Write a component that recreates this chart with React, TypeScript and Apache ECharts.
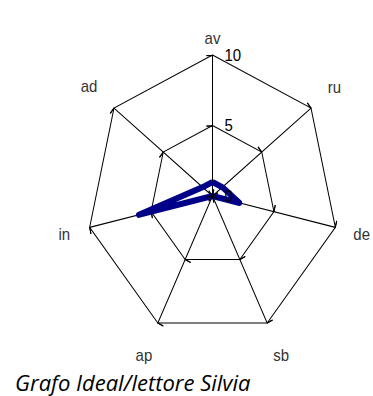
import React, { useEffect, useRef } from "react";
import * as echarts from "echarts";

// categories in clockwise order, starting at the top
const categories = ["av", "ru", "de", "sb", "ap", "in", "ad"];
const values = [1, 1, 2.2, 0, 0, 6, 1];
const nameGaps = [15, 30, 27, 32, 32, 26, 32];
const axisMax = 10;
const tickStep = 5;
const caption = "Grafo Ideal/lettore Silvia";

// the reference image is vertically stretched
const SY = 1.119;
const CX = 212.5;
const CY = 196;
const R = 126;

// ECharts draws indicators counter-clockwise: keep the first, reverse the rest
const cw = <T,>(arr: T[]): T[] => [arr[0], ...arr.slice(1).reverse()];

export default function App() {
  const ref = useRef<HTMLDivElement>(null);
  const capRef = useRef<HTMLDivElement>(null);
  useEffect(() => {
    const chart = echarts.init(ref.current!, null, { renderer: "svg" });
    const capChart = echarts.init(capRef.current!, null, { renderer: "svg" });
    const font = "Liberation Sans, Arial, sans-serif";
    const common = {
      center: [CX, CY],
      radius: R,
      shape: "polygon",
      splitNumber: axisMax / tickStep,
      startAngle: 90,
    };
    const names = cw(categories);
    const gaps = cw(nameGaps);
    chart.setOption({
      animation: false,
      radar: [
        {
          ...common,
          indicator: names.map((n, i) => ({
            name: n,
            min: 0,
            max: axisMax,
            nameGap: gaps[i],
          })),
          axisName: {
            color: "#333",
            fontSize: 15,
            fontFamily: font,
            align: "center",
            verticalAlign: "middle",
          },
          axisLine: { lineStyle: { color: "#000", width: 1 } },
          splitLine: { lineStyle: { color: "#000", width: 1 } },
          splitArea: { show: false },
          axisTick: { show: true, length: 6, lineStyle: { color: "#000", width: 1 } },
          axisLabel: { show: false },
        },
        {
          ...common,
          z: 3,
          indicator: names.map((n, i) => ({
            name: n,
            min: 0,
            max: axisMax,
            ...(i === 0
              ? {
                  axisLabel: {
                    show: true,
                    align: "left",
                    margin: -12,
                    showMinLabel: true,
                    showMaxLabel: true,
                  },
                }
              : {}),
          })),
          axisName: { show: false },
          axisLine: { show: false },
          splitLine: { show: false },
          splitArea: { show: false },
          axisTick: { show: true, inside: true, length: 6, lineStyle: { color: "#000", width: 1 } },
          axisLabel: { show: false, color: "#000", fontSize: 15, fontFamily: font },
        },
      ],
      series: [
        {
          type: "radar",
          radarIndex: 0,
          symbol: "none",
          lineStyle: { color: "#000088", width: 5.5 },
          data: [{ value: cw(values), name: "Ideal/lettore" }],
        },
      ],
    });
    capChart.setOption({
      animation: false,
      graphic: [
        {
          type: "text",
          x: 15,
          y: 32,
          style: {
            text: caption,
            fontFamily: "Open Sans, sans-serif",
            fontStyle: "italic",
            fontSize: 22,
            fill: "#000",
            verticalAlign: "middle",
          },
        },
      ],
    });
    return () => {
      chart.dispose();
      capChart.dispose();
    };
  }, []);
  return (
    <div
      style={{
        position: "absolute",
        left: 0,
        top: 0,
        width: 373,
        height: 396,
        overflow: "hidden",
      }}
    >
      <div
        ref={ref}
        style={{
          position: "absolute",
          left: 0,
          top: 0,
          width: 373,
          height: 370,
          transform: `scaleY(${SY})`,
          transformOrigin: `0px ${CY}px`,
        }}
      />
      <div
        ref={capRef}
        style={{ position: "absolute", left: 0, top: 350, width: 373, height: 46 }}
      />
    </div>
  );
}
